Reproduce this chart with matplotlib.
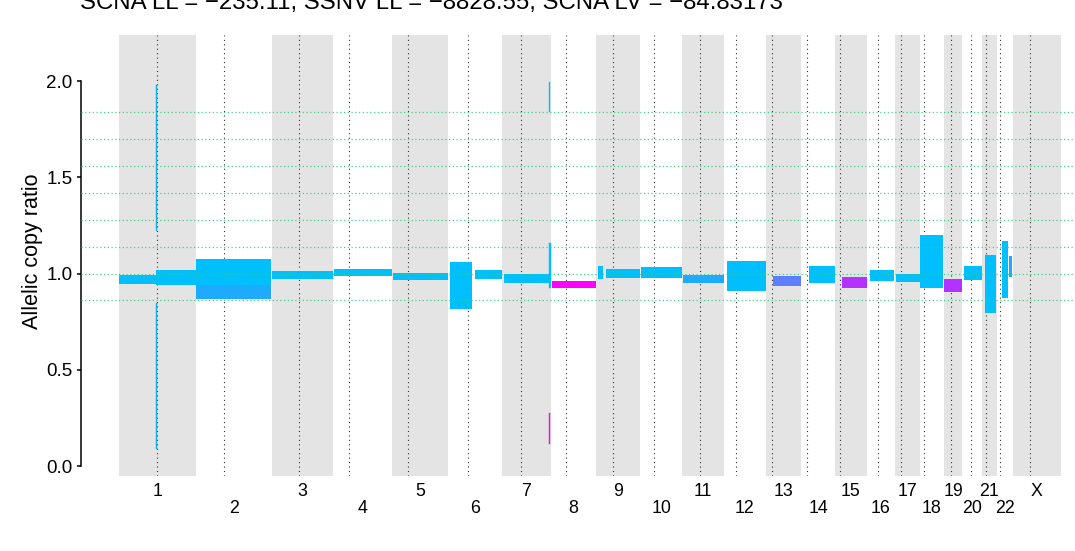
import numpy as np
import matplotlib
matplotlib.use("Agg")
import matplotlib.pyplot as plt

plt.rcParams["font.family"] = ["Liberation Sans", "DejaVu Sans"]

# ── Data ──────────────────────────────────────────────────────────
CHROMS   = [str(i) for i in range(1, 23)] + ["X"]
# chromosome lengths (Mb, hg19)
CHR_LEN  = [249.25, 243.20, 198.02, 191.15, 180.92, 171.12, 159.14, 146.36,
            141.21, 135.53, 135.01, 133.85, 115.17, 107.35, 102.53, 90.35,
            81.20, 78.08, 59.13, 63.03, 48.13, 51.30, 155.27]
# centromere marks (Mb within chromosome)
CHR_CEN  = [123.6, 90.5, 89.8, 51.6, 49.1, 62.6, 61.2, 47.6, 54.8, 43.0,
            56.5, 39.0, 19.8, 17.7, 18.2, 38.2, 20.4, 11.9, 22.9, 26.4,
            11.7, 10.7, 56.2]

# copy-ratio grid levels
GRID_LEVELS = [0.86, 1.00, 1.14, 1.28, 1.42, 1.56, 1.70, 1.84]

# segments: chromosome, start/end (Mb), lower/upper allelic copy ratio, colour
SEG_CHROM = ["1", "1", "1", "1", "2", "2", "3", "4", "5", "6", "6", "7",
             "7", "7", "7", "8", "9", "9", "10", "11", "12", "13", "14",
             "15", "16", "17", "18", "19", "20", "21", "22", "22"]
SEG_START = [0.8, 121.0, 120.0, 120.0, 0.0, 0.0, 0.0, 3.0, 2.5, 5.5, 86.1,
             8.6, 153.8, 153.8, 153.8, 4.3, 6.4, 32.0, 3.9, 3.9, 7.7, 22.2,
             23.2, 22.4, 10.2, 3.7, 0.1, 0.0, 4.7, 9.4, 16.2, 38.8]
SEG_END   = [120.0, 249.0, 122.6, 122.6, 243.0, 243.0, 198.0, 191.0, 181.0,
             76.5, 171.0, 153.8, 157.0, 159.1, 157.0, 146.0, 22.5, 141.0,
             135.5, 135.0, 133.8, 115.0, 107.0, 102.5, 87.6, 81.2, 76.0,
             59.0, 62.8, 44.9, 35.5, 48.4]
SEG_LOW   = [0.945, 0.940, 1.222, 0.088, 0.940, 0.869, 0.973, 0.987, 0.966,
             0.816, 0.971, 0.951, 1.839, 0.925, 0.116, 0.925, 0.971, 0.977,
             0.977, 0.951, 0.909, 0.935, 0.951, 0.925, 0.961, 0.956, 0.925,
             0.904, 0.966, 0.795, 0.873, 0.982]
SEG_HIGH  = [0.992, 1.018, 1.979, 0.847, 1.075, 0.940, 1.013, 1.023, 1.003,
             1.060, 1.018, 0.997, 1.995, 1.158, 0.275, 0.961, 1.039, 1.023,
             1.034, 0.992, 1.065, 0.987, 1.039, 0.982, 1.018, 0.997, 1.200,
             0.971, 1.039, 1.096, 1.169, 1.091]
SEG_COLOR = ["#00BFFF", "#00BFFF", "#12AEE8", "#12AEE8", "#00BFFF", "#1EAAFF",
             "#00BFFF", "#00BFFF", "#00BFFF", "#00BFFF", "#00BFFF", "#00BFFF",
             "#00BFFF", "#00BFFF", "#FF00FF", "#FF00FF", "#00BFFF", "#00BFFF",
             "#00BFFF", "#1EAAFF", "#00BFFF", "#5F7DFF", "#00BFFF", "#B432FF",
             "#00BFFF", "#00BFFF", "#00BFFF", "#B432FF", "#00BFFF", "#00BFFF",
             "#00BFFF", "#1EAAFF"]

TITLE = "SCNA LL = \u2212235.11, SSNV LL = \u22128828.55, SCNA LV = \u221284.83173"

# ── Genome coordinates ────────────────────────────────────────────
chr_len   = np.array(CHR_LEN)
chr_start = np.concatenate([[0.0], np.cumsum(chr_len)[:-1]])
chr_mid   = chr_start + chr_len / 2
genome    = chr_len.sum()
offset    = dict(zip(CHROMS, chr_start))

# ── Figure ────────────────────────────────────────────────────────
W, H = 1075, 551
fig = plt.figure(figsize=(W / 100, H / 100), dpi=100)
ax_l, ax_r, ax_t, ax_b = 81, 1098.7, 35, 476
ax = fig.add_axes([ax_l / W, 1 - ax_b / H, (ax_r - ax_l) / W, (ax_b - ax_t) / H])

ax.set_xlim(-0.04 * genome, 1.04 * genome)
ax.set_ylim(-0.0519, 2.239)

# alternating chromosome bands
for i, (s, l) in enumerate(zip(chr_start, chr_len)):
    if i % 2 == 0:
        ax.axvspan(s, s + l, color="#E4E4E4", lw=0, zorder=0)

# centromeres
for s, c in zip(chr_start, CHR_CEN):
    ax.axvline(s + c, color="#333333", lw=0.8, ls=(0, (1, 3)), zorder=1)

# segments (very short ones get a hairline outline so they stay visible)
for ch, s, e, lo, hi, col in zip(SEG_CHROM, SEG_START, SEG_END,
                                 SEG_LOW, SEG_HIGH, SEG_COLOR):
    thin = (e - s) < 8
    ax.bar(offset[ch] + s, hi - lo, width=e - s, bottom=lo, align="edge",
           color=col, edgecolor=col, lw=0.3 if thin else 0, zorder=2)

# copy-ratio grid
for g in GRID_LEVELS:
    ax.axhline(g, color="#35CC88", lw=0.9, ls=(0, (1, 2)), alpha=0.9, zorder=3)

# axes styling
for sp in ["top", "right", "bottom"]:
    ax.spines[sp].set_visible(False)
ax.spines["left"].set_bounds(0, 2)
ax.spines["left"].set_linewidth(1.1)
ax.set_yticks([0, 0.5, 1.0, 1.5, 2.0])
ax.set_yticklabels(["0.0", "0.5", "1.0", "1.5", "2.0"])
ax.tick_params(axis="y", length=3, width=1.1, pad=3, labelsize=13.5)
ax.set_xticks([])

# chromosome labels, staggered
for i, (m, name) in enumerate(zip(chr_mid, CHROMS)):
    y = -0.0351 if i % 2 == 0 else -0.0726
    ax.text(m, y, name, transform=ax.get_xaxis_transform(),
            ha="center", va="center", fontsize=12.8, clip_on=False)

fig.text(33 / W, 1 - 251 / H, "Allelic copy ratio", rotation=90,
         ha="center", va="center", fontsize=15.5)
fig.text(80 / W, 1 - 9.5 / H, TITLE, ha="left", va="baseline", fontsize=17.3)

fig.savefig("out.png", dpi=100)
plt.close(fig)
